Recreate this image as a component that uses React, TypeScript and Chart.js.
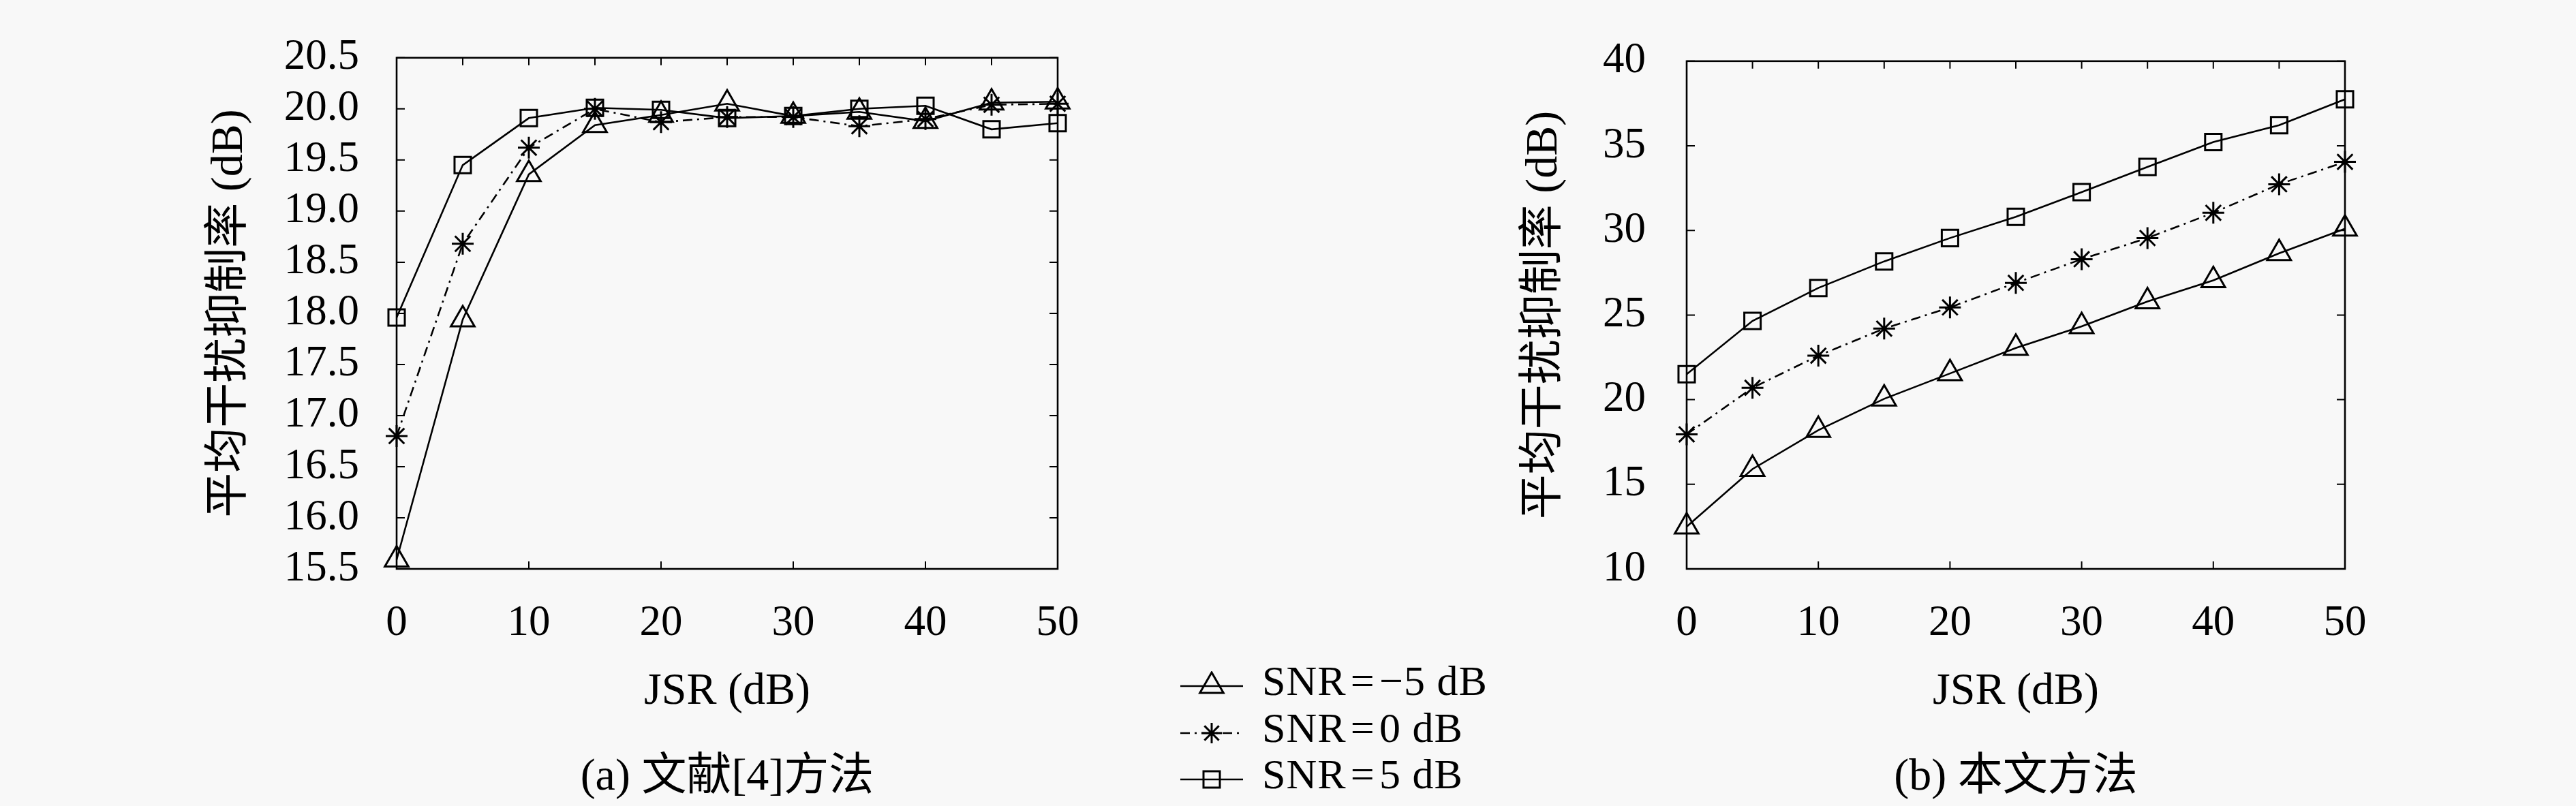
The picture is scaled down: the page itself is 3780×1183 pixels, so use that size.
import { useEffect, useRef } from "react";
import { Chart, registerables } from "chart.js";
Chart.register(...registerables);

const ink = "#000";
const paper = "#f8f8f8";
const serif = "'Liberation Serif', 'Noto Sans CJK SC', serif";

// JSR values (dB), x axis of both panels
const jsr = [0, 5, 10, 15, 20, 25, 30, 35, 40, 45, 50];

// (a) method of ref [4]
const refSnrM5 = [15.59, 17.94, 19.36, 19.84, 19.94, 20.05, 19.93, 19.97, 19.88, 20.06, 20.07];
const refSnr0 = [16.8, 18.68, 19.62, 20.0, 19.87, 19.92, 19.92, 19.83, 19.9, 20.04, 20.05];
const refSnr5 = [17.96, 19.45, 19.91, 20.01, 19.99, 19.91, 19.93, 20.0, 20.03, 19.8, 19.86];

// (b) proposed method
const oursSnrM5 = [12.5, 15.9, 18.2, 20.05, 21.55, 23.05, 24.33, 25.8, 27.05, 28.65, 30.1];
const oursSnr0 = [17.95, 20.7, 22.6, 24.2, 25.45, 26.9, 28.3, 29.55, 31.04, 32.73, 34.05];
const oursSnr5 = [21.5, 24.65, 26.6, 28.17, 29.55, 30.8, 32.26, 33.75, 35.22, 36.22, 37.75];

const seriesNames = ["SNR=−5 dB", "SNR=0 dB", "SNR=5 dB"];
const xTitle = "JSR (dB)";
const yTitle = "平均干扰抑制率 (dB)";
const captions = ["(a) 文献[4]方法", "(b) 本文方法"];

const looks = [
  { pointStyle: "triangle", radius: 20, dash: [] as number[] },
  { pointStyle: "star", radius: 16, dash: [14, 7, 3, 7] },
  { pointStyle: "rect", radius: 17, dash: [] as number[] },
];

// box around the plot with inward ticks (top every 5, bottom at labels, both sides on y)
const frameTicks = {
  id: "frameTicks",
  afterDraw(chart: any) {
    const { ctx, chartArea, scales } = chart;
    const { left, right, top, bottom } = chartArea;
    const x = scales.x;
    const y = scales.y;
    ctx.save();
    ctx.strokeStyle = ink;
    ctx.lineWidth = 2;
    ctx.beginPath();
    jsr.forEach((v) => {
      const px = x.getPixelForValue(v);
      ctx.moveTo(px, top);
      ctx.lineTo(px, top + 11);
    });
    x.ticks.forEach((t: any) => {
      const px = x.getPixelForValue(t.value);
      ctx.moveTo(px, bottom);
      ctx.lineTo(px, bottom - 11);
    });
    y.ticks.forEach((t: any) => {
      const py = y.getPixelForValue(t.value);
      ctx.moveTo(left, py);
      ctx.lineTo(left + 12, py);
      ctx.moveTo(right, py);
      ctx.lineTo(right - 12, py);
    });
    ctx.stroke();
    ctx.lineWidth = 2.6;
    ctx.strokeRect(left, top, right - left, bottom - top);
    ctx.restore();
  },
};

type PanelProps = {
  series: number[][];
  yMin: number;
  yMax: number;
  yStep: number;
  decimals: number;
  left: number;
  width: number;
  padRight: number;
  titlePad: number;
  labelPad: number;
};

const Panel = ({ series, yMin, yMax, yStep, decimals, left, width, padRight, titlePad, labelPad }: PanelProps) => {
  const canvasRef = useRef<HTMLCanvasElement | null>(null);

  useEffect(() => {
    if (!canvasRef.current) return;
    const chart = new Chart(canvasRef.current, {
      type: "line",
      data: {
        datasets: series.map((vals, i) => ({
          label: seriesNames[i],
          data: vals.map((v, j) => ({ x: jsr[j], y: v })),
          borderColor: ink,
          borderWidth: 2.6,
          borderDash: looks[i].dash,
          pointStyle: looks[i].pointStyle as any,
          pointRadius: looks[i].radius,
          pointBorderWidth: 3,
          pointBorderColor: ink,
          pointBackgroundColor: "rgba(0,0,0,0)",
          tension: 0,
          clip: false as any,
        })),
      },
      options: {
        responsive: false,
        animation: false,
        events: [],
        layout: { autoPadding: false, padding: { left: 0, top: 27, right: padRight, bottom: 0 } } as any,
        plugins: { legend: { display: false }, tooltip: { enabled: false } },
        scales: {
          x: {
            type: "linear",
            min: 0,
            max: 50,
            grid: { display: false },
            border: { display: false },
            ticks: { stepSize: 10, autoSkip: false, color: ink, padding: 35, font: { family: serif, size: 63 } },
            title: {
              display: true,
              text: xTitle,
              color: ink,
              font: { family: serif, size: 66 },
              padding: { top: 0, bottom: 128 },
            },
            afterFit: (s: any) => {
              s.height = 348;
            },
          },
          y: {
            min: yMin,
            max: yMax,
            grid: { display: false },
            border: { display: false },
            ticks: {
              stepSize: yStep,
              autoSkip: false,
              color: ink,
              padding: labelPad,
              font: { family: serif, size: 63 },
              callback: (v: any) => Number(v).toFixed(decimals),
            },
            title: {
              display: true,
              text: yTitle,
              color: ink,
              font: { family: serif, size: 66 },
              padding: { top: titlePad, bottom: 0 },
            },
            afterFit: (s: any) => {
              s.width = 582;
            },
          },
        },
      },
      plugins: [frameTicks],
    });
    return () => chart.destroy();
  }, [series]);

  return (
    <canvas
      ref={canvasRef}
      width={width}
      height={1183}
      style={{ position: "absolute", left, top: 0, width, height: 1183 }}
    />
  );
};

const Marker = ({ i }: { i: number }) => {
  const cx = 50;
  const cy = 22;
  let mark = null;
  if (i === 0) {
    mark = <polygon points={`${cx},${cy - 20} ${cx - 17.3},${cy + 10} ${cx + 17.3},${cy + 10}`} fill="none" stroke={ink} strokeWidth={3} />;
  } else if (i === 1) {
    const r = 15;
    const d = r * Math.SQRT1_2;
    mark = (
      <path
        d={`M${cx - r},${cy}L${cx + r},${cy}M${cx},${cy - r}L${cx},${cy + r}M${cx - d},${cy - d}L${cx + d},${cy + d}M${cx - d},${cy + d}L${cx + d},${cy - d}`}
        stroke={ink}
        strokeWidth={3}
      />
    );
  } else {
    mark = <rect x={cx - 12} y={cy - 12} width={24} height={24} fill="none" stroke={ink} strokeWidth={3} />;
  }
  return (
    <svg width={100} height={44} style={{ position: "absolute", left: 0, top: 0 }}>
      <line x1={4} y1={cy} x2={96} y2={cy} stroke={ink} strokeWidth={2.6} strokeDasharray={looks[i].dash.join(" ")} />
      {mark}
    </svg>
  );
};

const legendRows = [999, 1068, 1136];

export default function App() {
  return (
    <div
      style={{
        position: "absolute",
        left: 0,
        top: 0,
        width: 3780,
        height: 1183,
        background: paper,
        overflow: "hidden",
        fontFamily: serif,
        color: ink,
      }}
    >
      <Panel
        series={[refSnrM5, refSnr0, refSnr5]}
        yMin={15.5}
        yMax={20.5}
        yStep={0.5}
        decimals={1}
        left={0}
        width={1700}
        padRight={148}
        titlePad={298}
        labelPad={47}
      />
      <Panel
        series={[oursSnrM5, oursSnr0, oursSnr5]}
        yMin={10}
        yMax={40}
        yStep={5}
        decimals={0}
        left={1893}
        width={1887}
        padRight={339}
        titlePad={334}
        labelPad={52}
      />
      {seriesNames.map((name, i) => (
        <div key={name}>
          <div style={{ position: "absolute", left: 1728, top: legendRows[i] + 8 - 22, width: 100, height: 44 }}>
            <Marker i={i} />
          </div>
          <div
            style={{
              position: "absolute",
              left: 1852,
              top: legendRows[i] - 31,
              fontSize: 62,
              lineHeight: "62px",
              whiteSpace: "nowrap",
              letterSpacing: 1,
            }}
          >
            {name.split("=")[0]}
            <span style={{ margin: "0 0.1em" }}>=</span>
            {name.split("=")[1]}
          </div>
        </div>
      ))}
      {captions.map((c, i) => (
        <div
          key={c}
          style={{
            position: "absolute",
            left: (i === 0 ? 1067 : 2958) - 500,
            width: 1000,
            top: 1137 - 36,
            textAlign: "center",
            fontSize: 66,
            lineHeight: "72px",
            whiteSpace: "nowrap",
          }}
        >
          {c}
        </div>
      ))}
    </div>
  );
}
